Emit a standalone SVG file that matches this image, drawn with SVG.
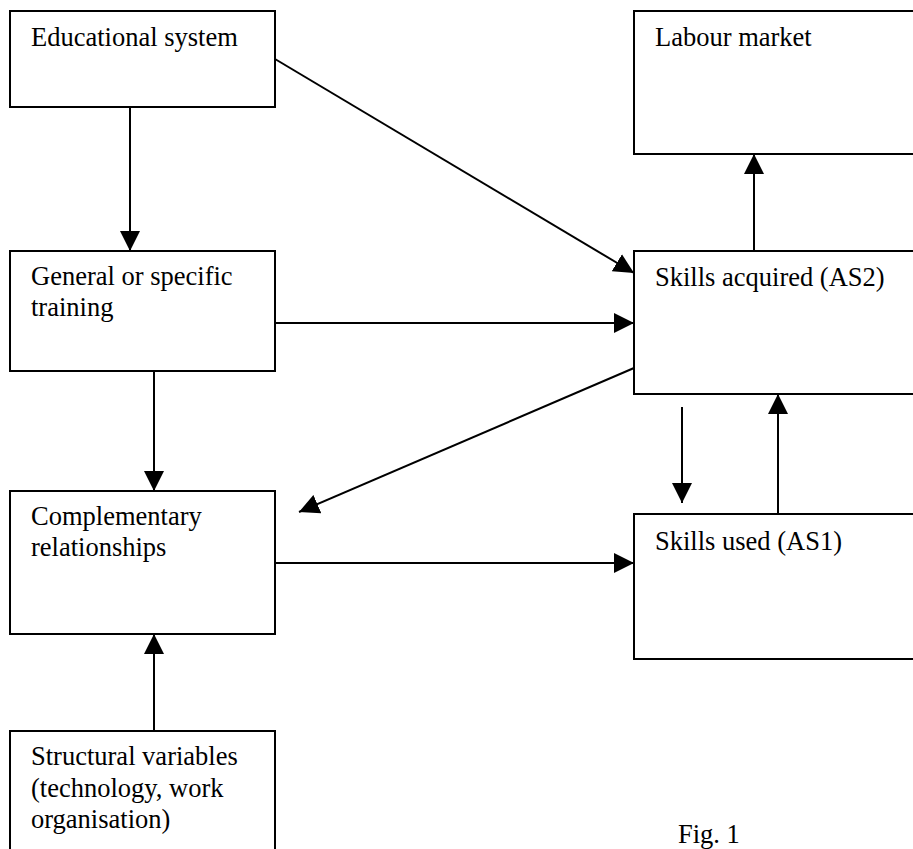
<svg xmlns="http://www.w3.org/2000/svg" width="913" height="849" viewBox="0 0 913 849">
<style>
.box{fill:#fff;stroke:#000;stroke-width:2}
.t{font-family:"Liberation Serif","Times New Roman",serif;font-size:26.5px;fill:#000}
.c{stroke:#000;stroke-width:2;fill:none;marker-end:url(#ah)}
</style>
<defs>
<marker id="ah" markerUnits="userSpaceOnUse" markerWidth="20" markerHeight="20" refX="20" refY="10" orient="auto" viewBox="0 0 20 20">
<path d="M0,0 L20,10 L0,20 z" fill="#000"/>
</marker>
</defs>
<rect width="913" height="849" fill="#fff"/>
<g id="edu"><rect class="box" x="10" y="11" width="265" height="96"/><text class="t" x="31" y="46">Educational system</text></g>
<g id="labour"><rect class="box" x="634" y="11" width="300" height="143"/><text class="t" x="655" y="46">Labour market</text></g>
<g id="general"><rect class="box" x="10" y="251" width="265" height="120"/><text class="t" x="31" y="285">General or specific</text><text class="t" x="31" y="316">training</text></g>
<g id="acquired"><rect class="box" x="634" y="251" width="300" height="143"/><text class="t" x="655" y="286">Skills acquired (AS2)</text></g>
<g id="compl"><rect class="box" x="10" y="491" width="265" height="143"/><text class="t" x="31" y="525">Complementary</text><text class="t" x="31" y="556">relationships</text></g>
<g id="used"><rect class="box" x="634" y="514" width="300" height="145"/><text class="t" x="655" y="550">Skills used (AS1)</text></g>
<g id="structural"><rect class="box" x="10" y="731" width="265" height="140"/><text class="t" x="31" y="765">Structural variables</text><text class="t" x="31" y="797">(technology, work</text><text class="t" x="31" y="828">organisation)</text></g>
<g id="caption"><text class="t" x="678" y="843">Fig. 1</text></g>
<g id="connectors">
<line class="c" x1="130" y1="107" x2="130" y2="251"/>
<line class="c" x1="275" y1="59" x2="634" y2="273"/>
<line class="c" x1="275" y1="323" x2="634" y2="323"/>
<line class="c" x1="154" y1="371" x2="154" y2="491"/>
<line class="c" x1="634" y1="368" x2="299" y2="512"/>
<line class="c" x1="754" y1="251" x2="754" y2="154"/>
<line class="c" x1="682" y1="407" x2="682" y2="503"/>
<line class="c" x1="778" y1="514" x2="778" y2="394"/>
<line class="c" x1="275" y1="563" x2="634" y2="563"/>
<line class="c" x1="154" y1="731" x2="154" y2="634"/>
</g>
</svg>
